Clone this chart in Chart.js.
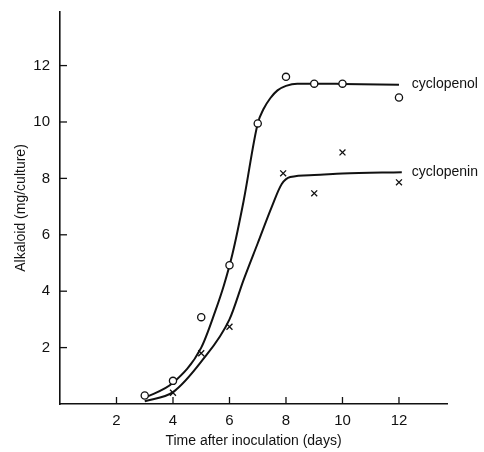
<!DOCTYPE html>
<html>
<head>
<meta charset="utf-8">
<script src="https://cdn.jsdelivr.net/npm/chart.js@4.4.1/dist/chart.umd.min.js"></script>
<style>
  html, body { margin: 0; padding: 0; background: #fff; }
  #wrap { width: 484px; height: 452px; }
</style>
</head>
<body>
<div id="wrap"><canvas id="myChart"></canvas></div>
<script>
// measured points
var days = [3, 4, 5, 6, 7, 8, 9, 10, 12];
var cyclopenol = [0.3, 0.82, 3.08, 4.92, 9.95, 11.6, 11.36, 11.36, 10.87];
var peninDays = [4, 5, 6, 7.9, 9, 10, 12];
var cyclopenin = [0.4, 1.8, 2.74, 8.18, 7.47, 8.92, 7.86];

// hand-drawn fitted curves
var penolCurveX = [3, 4, 5, 5.5, 5.8, 6.1, 6.5, 7, 7.2, 7.45, 7.7, 8, 8.4, 9, 10, 12];
var penolCurveY = [0.22, 0.75, 2.0, 3.3, 4.2, 5.3, 7.2, 9.95, 10.45, 10.85, 11.12, 11.28, 11.36, 11.36, 11.35, 11.32];
var peninCurveX = [3, 4, 5, 6, 6.5, 7, 7.5, 7.85, 8.15, 9, 10, 12.1];
var peninCurveY = [0.1, 0.42, 1.5, 3.0, 4.4, 5.7, 7.0, 7.8, 8.05, 8.12, 8.17, 8.22];

var tickValues = [2, 4, 6, 8, 10, 12];
var curveNames = ["cyclopenol", "cyclopenin"];

function pts(xs, ys) {
  return xs.map(function (x, i) { return {x: x, y: ys[i]}; });
}

var FONT = "'Liberation Sans Narrow', 'Liberation Sans', Arial, sans-serif";

// inward tick marks + curve labels
var extras = {
  id: "extras",
  afterDraw: function (chart) {
    var ctx = chart.ctx, xs = chart.scales.x, ys = chart.scales.y;
    ctx.save();
    ctx.strokeStyle = "#111";
    ctx.lineWidth = 1.3;
    tickValues.forEach(function (v) {
      var px = xs.getPixelForValue(v);
      ctx.beginPath();
      ctx.moveTo(px, ys.bottom);
      ctx.lineTo(px, ys.bottom - 7);
      ctx.stroke();
      var py = ys.getPixelForValue(v);
      ctx.beginPath();
      ctx.moveTo(xs.left, py);
      ctx.lineTo(xs.left + 7, py);
      ctx.stroke();
    });
    ctx.fillStyle = "#111";
    ctx.font = "14px " + FONT;
    ctx.textBaseline = "middle";
    ctx.textAlign = "left";
    var lx = xs.getPixelForValue(12.1) + 10;
    ctx.fillText(curveNames[0], lx, ys.getPixelForValue(penolCurveY[penolCurveY.length - 1]) - 1);
    ctx.fillText(curveNames[1], lx, ys.getPixelForValue(peninCurveY[peninCurveY.length - 1]));
    ctx.restore();
  }
};

new Chart("myChart", {
  type: "scatter",
  data: {
    datasets: [
      {
        data: pts(days, cyclopenol),
        pointStyle: "circle",
        pointRadius: 3.6,
        pointBorderWidth: 1.3,
        pointBackgroundColor: "#fff",
        pointBorderColor: "#111",
        order: 0
      },
      {
        data: pts(peninDays, cyclopenin),
        pointStyle: "crossRot",
        pointRadius: 4.2,
        pointBorderWidth: 1.3,
        pointBorderColor: "#111",
        order: 0
      },
      {
        type: "line",
        data: pts(penolCurveX, penolCurveY),
        borderColor: "#111",
        borderWidth: 2,
        pointRadius: 0,
        fill: false,
        cubicInterpolationMode: "monotone",
        order: 1
      },
      {
        type: "line",
        data: pts(peninCurveX, peninCurveY),
        borderColor: "#111",
        borderWidth: 2,
        pointRadius: 0,
        fill: false,
        cubicInterpolationMode: "monotone",
        order: 1
      }
    ]
  },
  options: {
    responsive: true,
    maintainAspectRatio: false,
    animation: false,
    layout: {padding: {top: 12, right: 37, left: 0, bottom: 0}},
    plugins: {legend: {display: false}, tooltip: {enabled: false}},
    scales: {
      x: {
        type: "linear",
        min: 0,
        max: 13.7,
        afterBuildTicks: function (s) { s.ticks = tickValues.map(function (v) { return {value: v}; }); },
        afterFit: function (s) { s.height = 48; s.paddingLeft = 0; s.paddingRight = 0; },
        grid: {display: true, drawOnChartArea: false, drawTicks: false},
        border: {display: true, color: "#111", width: 1.6},
        ticks: {color: "#111", padding: 8, maxRotation: 0, font: {family: FONT, size: 15}},
        title: {display: true, text: "Time after inoculation (days)", color: "#111",
                padding: {top: 0, bottom: 2}, font: {family: FONT, size: 14}}
      },
      y: {
        type: "linear",
        min: 0,
        max: 13.9,
        afterBuildTicks: function (s) { s.ticks = tickValues.map(function (v) { return {value: v}; }); },
        afterFit: function (s) { s.width = 60; s.paddingTop = 0; s.paddingBottom = 0; },
        grid: {display: true, drawOnChartArea: false, drawTicks: false},
        border: {display: true, color: "#111", width: 1.6},
        ticks: {color: "#111", padding: 10, font: {family: FONT, size: 15}},
        title: {display: true, text: "Alkaloid (mg/culture)", color: "#111",
                padding: {top: 13, bottom: 0}, font: {family: FONT, size: 14}}
      }
    }
  },
  plugins: [extras]
});
</script>
</body>
</html>
